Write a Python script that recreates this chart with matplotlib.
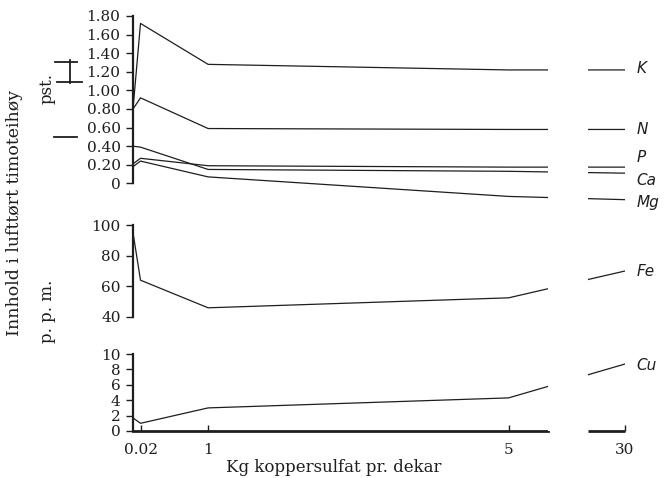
import numpy as np
import matplotlib
matplotlib.use("Agg")
import matplotlib.pyplot as plt
from matplotlib.lines import Line2D

# Kg koppersulfat pr. dekar
DOSE = [0, 0.02, 1, 5, 30]
XTICKS = [0.02, 1, 5, 30]
XTICKLABELS = ["0.02", "1", "5", "30"]

# pst. (top panel)
K = [0.80, 1.72, 1.28, 1.22, 1.22]
N = [0.80, 0.92, 0.59, 0.58, 0.58]
P = [0.21, 0.27, 0.19, 0.175, 0.175]
CA = [0.40, 0.39, 0.15, 0.13, 0.11]
MG = [0.18, 0.24, 0.07, -0.14, -0.175]
# p. p. m.
FE = [95, 64, 46, 52.5, 70]
CU = [1.7, 1.0, 3.0, 4.3, 8.7]

TOP_TICKS = [0, 0.2, 0.4, 0.6, 0.8, 1.0, 1.2, 1.4, 1.6, 1.8]
FE_TICKS = [40, 60, 80, 100]
CU_TICKS = [0, 2, 4, 6, 8, 10]

# broken x axis: 0-0.02 stretched, 5-30 squeezed
DATA_BP = [-1, 0, 0.02, 1, 5, 30, 60]
DISP_BP = [-1, 0, 0.10, 1, 5, 6.55, 8.1]
GAP = (13.5, 22.0)


def fwd(x):
    return np.interp(x, DATA_BP, DISP_BP)


def inv(x):
    return np.interp(x, DISP_BP, DATA_BP)


INK = "#1e1e1e"
SERIF = "DejaVu Serif"
plt.rcParams["font.family"] = SERIF

W, H = 664, 478
fig = plt.figure(figsize=(W / 100, H / 100), dpi=100)


def px_axes(top, bottom):
    return fig.add_axes([133 / W, 1 - bottom / H, 492 / W, (bottom - top) / H])


ax1 = px_axes(16, 202)
ax2 = px_axes(225, 317)
ax3 = px_axes(354, 431)

for ax in (ax1, ax2, ax3):
    ax.set_xscale("function", functions=(fwd, inv))
    ax.set_xlim(0, 30)
    ax.patch.set_alpha(0)
    for s in ("top", "right"):
        ax.spines[s].set_visible(False)
    ax.spines["left"].set_linewidth(1.6)
    ax.spines["left"].set_color(INK)
    ax.tick_params(axis="y", direction="out", length=5, width=1.0,
                   color=INK, labelsize=11, pad=4, labelcolor=INK)
    ax.axvspan(GAP[0], GAP[1], color="white", zorder=3, lw=0)

fmt = lambda v: "0" if v == 0 else f"{v:.2f}"

# top panel
ax1.set_ylim(-0.2, 1.8)
ax1.spines["left"].set_bounds(0, 1.8)
ax1.spines["bottom"].set_visible(False)
ax1.set_xticks([])
ax1.set_yticks(TOP_TICKS)
ax1.set_yticklabels([fmt(v) for v in TOP_TICKS])
for vals in (K, N, P, CA, MG):
    ax1.plot(DOSE, vals, color=INK, lw=0.9, zorder=2)

# middle panel
ax2.set_ylim(40, 100)
ax2.spines["bottom"].set_visible(False)
ax2.set_xticks([])
ax2.set_yticks(FE_TICKS)
ax2.plot(DOSE, FE, color=INK, lw=0.9, zorder=2)

# bottom panel
ax3.set_ylim(0, 10)
ax3.set_yticks(CU_TICKS)
ax3.plot(DOSE, CU, color=INK, lw=0.9, zorder=2)
ax3.spines["bottom"].set_linewidth(2.0)
ax3.spines["bottom"].set_color(INK)
ax3.spines["bottom"].set_bounds(0, GAP[0])
ax3.plot([GAP[1], 30], [0, 0], color=INK, lw=2.0, clip_on=False,
         solid_capstyle="butt", zorder=4)
ax3.set_xticks(XTICKS)
ax3.set_xticklabels(XTICKLABELS)
ax3.tick_params(axis="x", direction="in", length=4, width=1.0, color=INK,
                labelsize=11, pad=9, labelcolor=INK)

# element labels at the right end
hand = dict(family="DejaVu Sans", style="italic", fontsize=11, color=INK,
            va="center", ha="left", textcoords="offset points",
            annotation_clip=False)
for ax, name, vals, dy in [(ax1, "K", K, 1), (ax1, "N", N, 0),
                           (ax1, "P", P, 7), (ax1, "Ca", CA, -5),
                           (ax1, "Mg", MG, -2), (ax2, "Fe", FE, 0),
                           (ax3, "Cu", CU, -1)]:
    ax.annotate(name, xy=(30, vals[-1]), xytext=(8, dy), **hand)

# axis titles
fig.text(15 / W, 1 - 213 / H, "Innhold i lufttørt timoteihøy", rotation=90,
         ha="center", va="center", fontsize=12.5, color=INK)
fig.text(47 / W, 1 - 88 / H, "pst.", rotation=90, ha="center", va="center",
         fontsize=12, color=INK)
fig.text(47 / W, 1 - 311 / H, "p. p. m.", rotation=90, ha="center",
         va="center", fontsize=12, color=INK)
fig.text(334 / W, 1 - 467 / H, "Kg koppersulfat pr. dekar", ha="center",
         va="center", fontsize=12, color=INK)

# stray rule marks next to "pst." in the original print
for x0, y0, x1, y1 in [(55, 62, 77, 62), (57, 82, 82, 82), (70, 60, 70, 83),
                       (54, 137, 77, 137)]:
    fig.add_artist(Line2D([x0 / W, x1 / W], [1 - y0 / H, 1 - y1 / H],
                          color=INK, lw=1.3, transform=fig.transFigure))

fig.savefig("out.png", dpi=100)
